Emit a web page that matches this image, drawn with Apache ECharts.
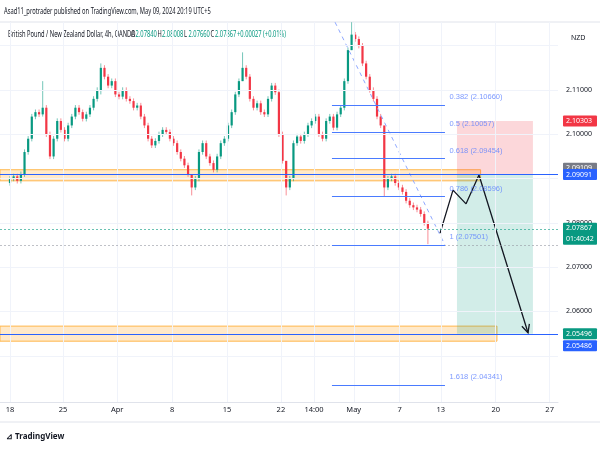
<!DOCTYPE html>
<html><head><meta charset="utf-8">
<script src="https://cdn.jsdelivr.net/npm/echarts@6/dist/echarts.min.js"></script>
<style>body{margin:0;background:#fff}#main{width:600px;height:452px}</style>
</head><body><div id="main"></div>
<script>
var myChart = echarts.init(document.getElementById('main'));

// closes, one candle per 2 bars (8h); bar 0 = Mar 18
var closes = [2.0900,2.0905,2.0895,2.0910,2.0960,2.0990,2.1040,2.1050,2.1045,2.1060,
  2.1000,2.0950,2.0990,2.1030,2.1010,2.0990,2.1020,2.1040,2.1060,2.1050,
  2.1035,2.1045,2.1060,2.1080,2.1100,2.1150,2.1130,2.1110,2.1120,2.1090,
  2.1085,2.1100,2.1080,2.1075,2.1060,2.1065,2.1040,2.1020,2.0990,2.0975,
  2.0985,2.1000,2.1010,2.1005,2.0990,2.0980,2.0960,2.0945,2.0930,2.0910,
  2.0880,2.0900,2.0960,2.0980,2.0950,2.0935,2.0920,2.0950,2.0980,2.0990,
  2.1020,2.1050,2.1090,2.1120,2.1150,2.1130,2.1080,2.1060,2.1070,2.1050,
  2.1045,2.1080,2.1110,2.1095,2.1000,2.0940,2.0880,2.0900,2.0980,2.0995,
  2.0985,2.1000,2.1020,2.1030,2.1040,2.1000,2.0990,2.1030,2.1040,2.1015,
  2.1045,2.1060,2.1120,2.1190,2.1225,2.1215,2.1200,2.1160,2.1130,2.1100,
  2.1080,2.1040,2.1020,2.0880,2.0900,2.0905,2.0890,2.0880,2.0870,2.0850,
  2.0840,2.0835,2.0830,2.0820,2.0800,2.0787];
var firstOpen = 2.0890;
// notable wicks: [candle index, high, low]
var wicks = [[9,2.1120,2.1040],[25,2.1160,2.1090],[50,2.0905,2.0862],[64,2.1185,2.1120],
  [76,2.0940,2.0862],[94,2.1253,2.1190],[103,2.1010,2.0860],[115,2.0805,2.0752]];

var xTicks = [0,29.2,59,89.2,119.4,149.1,167.3,189.2,214.5,237.1,267.3,297];
var xTickLabels = ['18','25','Apr','8','15','22','14:00','May','7','13','20','27'];
var yTicks = [2.05,2.06,2.07,2.08,2.09,2.10,2.11,2.12];
var yTickLabels = ['','2.06000','2.07000','2.08000','','2.10000','2.11000',''];

var fibLevels = [0.382,0.5,0.618,0.786,1,1.618];
var fibPrices = [2.10660,2.10057,2.09454,2.08596,2.07501,2.04341];
var fibX = [177.2,239.4];
var trendLine = [[178.9,2.1253],[239.4,2.0750]];
var pathPts = [[236.7,2.0777],[243.8,2.0874],[251,2.0843],[258.1,2.0908],[285.1,2.0552]];
var boxX = [246,287.8];
var stopPrice = 2.10303, entryPrice = 2.09091, targetPrice = 2.05496, lastPrice = 2.07867, lowPrice = 2.0750;
var zoneUpper = [2.0895,2.0920], zoneLower = [2.0533,2.0567];
var ohlcLetters = ['O','H','L','C'];
var ohlcValues = ['2.07840','2.08008','2.07660','2.07867'];
var changeText = '+0.00027 (+0.01%)';
var tags = [
  {v:2.10303,t:'2.10303',c:'#f23645'},
  {v:2.09109,t:'2.09109',c:'#787b86'},
  {v:2.09091,t:'2.09091',c:'#2962ff'},
  {v:2.07867,t:'2.07867\n01:40:42',c:'#089981'},
  {v:2.05496,t:'2.05496',c:'#089981'},
  {v:2.05486,t:'2.05486',c:'#2962ff'}
];

var X0 = -5.5, X1 = 301.6;
var candles = [];
var prev = firstOpen;
for (var i = 0; i < closes.length; i++) {
  var o = prev, c = closes[i];
  var hi = Math.max(o, c) + 0.0006, lo = Math.min(o, c) - 0.0006;
  wicks.forEach(function (w) { if (w[0] === i) { hi = w[1]; lo = w[2]; } });
  candles.push([i * 2, o, c, lo, hi]);
  prev = c;
}

function hLine(p, x0, x1, style) {
  return [{coord: [x0, p], lineStyle: style}, {coord: [x1, p]}];
}
var gridStyle = {color: '#f0f3fa', type: 'solid', width: 1};
var blue = {color: '#2962ff', type: 'solid', width: 1};

var option = {
  animation: false,
  grid: {left: 0, right: 42, top: 22, bottom: 50},
  xAxis: {type: 'value', min: X0, max: X1, axisLabel: {show: false}, axisTick: {show: false},
    splitLine: {show: false}, axisLine: {show: true, lineStyle: {color: '#e0e3eb'}}},
  yAxis: {type: 'value', min: 2.03957, max: 2.12535, position: 'right', axisLabel: {show: false},
    axisTick: {show: false}, splitLine: {show: false}, axisLine: {show: true, lineStyle: {color: '#e0e3eb'}}},
  series: [
    {type: 'line', data: [], silent: true, z: 0,
      markLine: {symbol: 'none', silent: true, label: {show: false}, lineStyle: gridStyle,
        data: xTicks.map(function (t) { return [{coord: [t, 2.03957]}, {coord: [t, 2.12535]}]; })
          .concat(yTicks.map(function (t) { return hLine(t, X0, X1, gridStyle); }))}},
    {type: 'custom', z: 2, renderItem: function (params, api) {
      var x = api.value(0), o = api.value(1), c = api.value(2), l = api.value(3), h = api.value(4);
      var col = c >= o ? '#089981' : '#f23645';
      var po = api.coord([x, o]), pc = api.coord([x, c]), pl = api.coord([x, l]), ph = api.coord([x, h]);
      var w = 2.2;
      return {type: 'group', children: [
        {type: 'line', shape: {x1: po[0], y1: ph[1], x2: po[0], y2: pl[1]}, style: {stroke: col, lineWidth: 0.8, opacity: 0.7}},
        {type: 'rect', shape: {x: po[0] - w / 2, y: Math.min(po[1], pc[1]), width: w, height: Math.max(1, Math.abs(po[1] - pc[1]))}, style: {fill: col}}
      ]};
    }, data: candles},
    {type: 'line', data: [], z: 1,
      markArea: {silent: true, data: [
        [{coord: [X0, zoneUpper[0]], itemStyle: {color: 'rgba(255,183,77,0.3)', borderColor: '#ffb74d', borderWidth: 1}}, {coord: [259, zoneUpper[1]]}],
        [{coord: [X0, zoneLower[0]], itemStyle: {color: 'rgba(255,183,77,0.3)', borderColor: '#ffb74d', borderWidth: 1}}, {coord: [268, zoneLower[1]]}],
        [{coord: [boxX[0], entryPrice], itemStyle: {color: 'rgba(242,54,69,0.2)'}}, {coord: [boxX[1], stopPrice]}],
        [{coord: [boxX[0], targetPrice], itemStyle: {color: 'rgba(8,153,129,0.18)'}}, {coord: [boxX[1], entryPrice]}]
      ]},
      markLine: {symbol: 'none', silent: true, label: {show: false}, lineStyle: blue, data: [
        hLine(entryPrice, X0, X1, blue),
        hLine(targetPrice, X0, X1, blue),
        hLine(lastPrice, X0, X1, {color: '#089981', width: 1, type: [2, 2], opacity: 0.6}),
        hLine(lowPrice, X0, X1, {color: '#9598a1', width: 1, type: [2, 2], opacity: 0.6})
      ].concat(fibPrices.map(function (p) { return hLine(p, fibX[0], fibX[1], {color: '#4a7bff', type: 'solid', width: 1}); }))}},
    {type: 'line', data: trendLine, symbol: 'none', z: 3, lineStyle: {color: '#8fa8ff', width: 1, type: [4, 4]}},
    {type: 'line', data: pathPts, symbol: 'none', z: 4, lineStyle: {color: '#131722', width: 1.3}},
    {type: 'scatter', z: 5, data: fibPrices.map(function (p) { return [fibX[1] + 2.5, p]; }),
      symbolSize: 0, label: {show: true, position: 'top', align: 'left', distance: 4, fontSize: 7.5, color: '#5b7fff',
        formatter: function (d) { return fibLevels[d.dataIndex] + ' (' + fibPrices[d.dataIndex].toFixed(5) + ')'; }}}
  ]
};
myChart.setOption(option);

var F = '"Noto Sans"';
var g = [];
var a = myChart.convertToPixel({xAxisIndex: 0, yAxisIndex: 0}, pathPts[3]);
var b = myChart.convertToPixel({xAxisIndex: 0, yAxisIndex: 0}, pathPts[4]);
var ang = Math.atan2(b[1] - a[1], b[0] - a[0]);
g.push({type: 'polyline', z: 10, shape: {points: [
  [b[0] - 9 * Math.cos(ang - 0.45), b[1] - 9 * Math.sin(ang - 0.45)], b,
  [b[0] - 9 * Math.cos(ang + 0.45), b[1] - 9 * Math.sin(ang + 0.45)]]}, style: {stroke: '#131722', lineWidth: 1.3, fill: null}});
xTicks.forEach(function (t, k) {
  var p = myChart.convertToPixel({xAxisIndex: 0}, t);
  g.push({type: 'text', x: p, y: 410, style: {text: xTickLabels[k], fill: '#131722', font: '7.5px ' + F, align: 'center', verticalAlign: 'middle'}});
});
yTicks.forEach(function (t, k) {
  var p = myChart.convertToPixel({yAxisIndex: 0}, t);
  g.push({type: 'text', x: 566, y: p, style: {text: yTickLabels[k], fill: '#131722', font: '7px ' + F, verticalAlign: 'middle'}});
});
tags.forEach(function (tg) {
  var p = myChart.convertToPixel({yAxisIndex: 0}, tg.v);
  var two = tg.t.indexOf('\n') >= 0;
  var h = two ? 22 : 11;
  var top = two ? p - 6 : p - 5.5;
  if (tg.t === '2.09109') top = p - 11;
  if (tg.t === '2.05486') top = p + 6;
  g.push({type: 'rect', x: 563, y: top, shape: {width: 34, height: h, r: 1}, style: {fill: tg.c}});
  g.push({type: 'text', x: 566, y: top + h / 2, style: {text: tg.t, fill: '#fff', font: '7px ' + F, verticalAlign: 'middle', lineHeight: 11}});
});
function hdr(x, y, text, color) {
  g.push({type: 'text', x: x, y: y, scaleX: 0.72, style: {text: text, fill: color, font: '8px ' + F, verticalAlign: 'middle'}});
}
hdr(4, 12, 'Asad11_protrader published on TradingView.com, May 09, 2024 20:19 UTC+5', '#131722');
hdr(8, 35, 'British Pound / New Zealand Dollar, 4h, OANDA', '#131722');
ohlcLetters.forEach(function (L, k) {
  var x0 = 131 + k * 26.5;
  hdr(x0, 35, L, '#131722');
  hdr(x0 + 4.5, 35, ohlcValues[k], '#089981');
});
hdr(237, 35, changeText, '#089981');
g.push({type: 'text', x: 571, y: 38, style: {text: 'NZD', fill: '#131722', font: '7px ' + F, verticalAlign: 'middle'}});
g.push({type: 'line', shape: {x1: 0, y1: 22, x2: 600, y2: 22}, style: {stroke: '#e0e3eb'}});
g.push({type: 'line', shape: {x1: 0, y1: 422, x2: 600, y2: 422}, style: {stroke: '#e0e3eb'}});
g.push({type: 'text', x: 6, y: 437, style: {text: '⊿ TradingView', fill: '#131722', font: 'bold 8px "Noto Sans"', verticalAlign: 'middle'}});
myChart.setOption({graphic: g});
</script>
</body></html>
